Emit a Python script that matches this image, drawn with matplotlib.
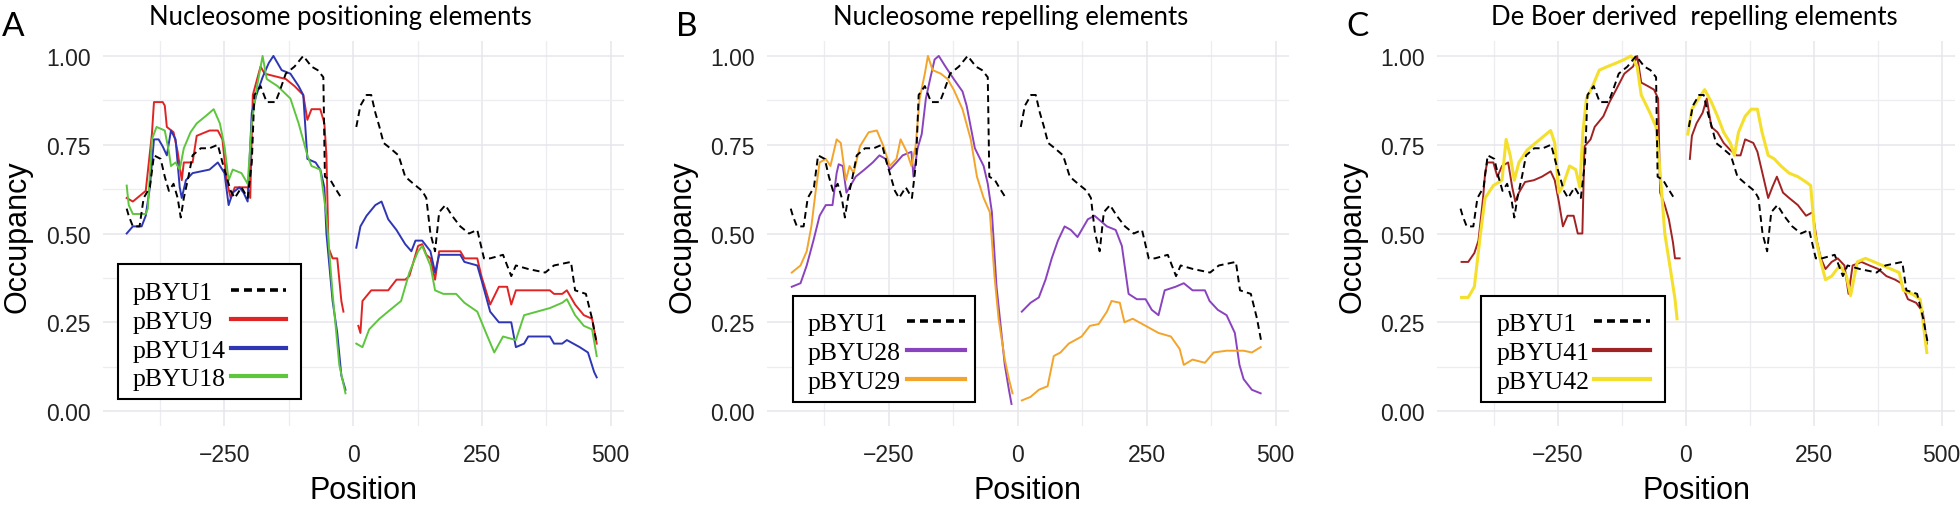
import numpy as np
import matplotlib
matplotlib.use("Agg")
import matplotlib.pyplot as plt
from matplotlib.patches import Rectangle

nan = np.nan

# ---- data; nan splits the two sides of the gap ----
pbyu1_x = [-440, -436, -428, -415, -407, -395, -387, -374, -366, -358, -349, -341, -335, -329, -320,
           -312, -296, -279, -263, -254, -246, -238, -230, -217, -205, -197, -192, -180, -168, -151,
           -143, -131, -114, -97, -81, -69, -58, -55, -44, -36, -23, nan,
           6, 14, 26, 35, 43, 51, 59, 72, 88, 101, 117, 134, 142, 150, 159, 167, 179, 192, 208, 225,
           241, 254, 266, 291, 307, 316, 340, 373, 390, 423, 431, 452, 464, 473]
pbyu1_y = [0.57, 0.55, 0.52, 0.52, 0.60, 0.63, 0.72, 0.71, 0.66, 0.62, 0.64, 0.60, 0.545, 0.60, 0.66,
           0.72, 0.74, 0.74, 0.75, 0.70, 0.66, 0.62, 0.60, 0.63, 0.60, 0.70, 0.89, 0.915, 0.87, 0.87,
           0.90, 0.95, 0.97, 1.00, 0.97, 0.96, 0.94, 0.66, 0.65, 0.63, 0.60, nan,
           0.80, 0.86, 0.89, 0.89, 0.84, 0.80, 0.755, 0.74, 0.72, 0.66, 0.64, 0.62, 0.60, 0.50, 0.45,
           0.56, 0.58, 0.55, 0.52, 0.50, 0.51, 0.43, 0.43, 0.44, 0.38, 0.41, 0.40, 0.39, 0.41, 0.42,
           0.34, 0.33, 0.26, 0.19]

pbyu9_x = [-440, -428, -403, -391, -387, -370, -366, -362, -349, -341, -333, -329, -312, -304, -279,
           -263, -254, -246, -238, -234, -230, -205, -200, -195, -180, -172, -131, -114, -97, -89,
           -81, -64, -56, -52, -48, -40, -31, -23, -19, nan,
           10, 14, 18, 35, 68, 84, 101, 109, 126, 134, 142, 150, 159, 167, 200, 208, 216, 241, 249,
           266, 283, 299, 307, 316, 382, 390, 406, 415, 431, 448, 464, 473]
pbyu9_y = [0.60, 0.59, 0.62, 0.78, 0.87, 0.87, 0.86, 0.80, 0.785, 0.73, 0.65, 0.70, 0.70, 0.775, 0.79,
           0.79, 0.765, 0.65, 0.60, 0.615, 0.63, 0.63, 0.60, 0.89, 0.97, 0.95, 0.935, 0.915, 0.89, 0.82,
           0.85, 0.85, 0.81, 0.72, 0.46, 0.43, 0.43, 0.31, 0.28, nan,
           0.24, 0.22, 0.31, 0.34, 0.34, 0.37, 0.37, 0.38, 0.465, 0.47, 0.44, 0.43, 0.37, 0.45, 0.45,
           0.45, 0.43, 0.43, 0.38, 0.30, 0.35, 0.35, 0.30, 0.34, 0.34, 0.33, 0.33, 0.34, 0.30, 0.27,
           0.26, 0.19]

pbyu14_x = [-440, -428, -411, -403, -395, -387, -378, -370, -362, -354, -345, -337, -333, -325, -312,
            -279, -263, -250, -242, -234, -221, -213, -205, -197, -188, -176, -164, -155, -139, -122,
            -106, -97, -89, -73, -64, -56, -52, -40, -31, -23, -15, nan,
            6, 14, 26, 43, 55, 68, 84, 101, 113, 121, 134, 150, 159, 167, 183, 208, 216, 241, 249,
            266, 283, 307, 316, 332, 340, 382, 390, 406, 415, 440, 456, 468, 473]
pbyu14_y = [0.50, 0.52, 0.52, 0.55, 0.63, 0.765, 0.765, 0.745, 0.72, 0.79, 0.765, 0.63, 0.60, 0.65, 0.67,
            0.68, 0.70, 0.67, 0.58, 0.615, 0.63, 0.615, 0.59, 0.84, 0.89, 0.94, 0.98, 1.00, 0.96, 0.95,
            0.915, 0.89, 0.71, 0.70, 0.68, 0.63, 0.50, 0.31, 0.22, 0.10, 0.06, nan,
            0.46, 0.52, 0.55, 0.58, 0.59, 0.54, 0.51, 0.47, 0.45, 0.48, 0.48, 0.45, 0.39, 0.44, 0.44,
            0.44, 0.42, 0.41, 0.37, 0.28, 0.25, 0.25, 0.18, 0.19, 0.21, 0.21, 0.19, 0.19, 0.20, 0.18,
            0.165, 0.11, 0.095]

pbyu18_x = [-440, -436, -428, -403, -399, -391, -382, -366, -358, -354, -345, -337, -329, -316, -304,
            -287, -271, -259, -250, -242, -234, -217, -205, -197, -188, -176, -168, -147, -122, -106,
            -89, -81, -64, -52, -40, -27, -15, nan,
            6, 18, 31, 51, 76, 93, 109, 126, 134, 150, 159, 175, 200, 216, 241, 258, 274, 291, 316,
            332, 357, 382, 406, 415, 431, 448, 464, 473]
pbyu18_y = [0.635, 0.58, 0.555, 0.555, 0.57, 0.765, 0.80, 0.79, 0.73, 0.69, 0.70, 0.68, 0.74, 0.785, 0.81,
            0.83, 0.85, 0.81, 0.745, 0.65, 0.68, 0.67, 0.64, 0.81, 0.905, 1.00, 0.935, 0.915, 0.88, 0.81,
            0.72, 0.69, 0.68, 0.55, 0.33, 0.13, 0.05, nan,
            0.19, 0.18, 0.23, 0.26, 0.29, 0.31, 0.39, 0.45, 0.465, 0.41, 0.34, 0.33, 0.33, 0.305, 0.28,
            0.22, 0.165, 0.21, 0.20, 0.27, 0.28, 0.29, 0.305, 0.315, 0.27, 0.24, 0.23, 0.155]

pbyu28_x = [-438, -421, -409, -396, -384, -372, -359, -351, -347, -339, -332, -326, -314, -297, -281,
            -268, -256, -248, -235, -223, -206, -202, -194, -186, -178, -169, -161, -153, -140, -124,
            -107, -99, -91, -83, -66, -58, -50, -41, -33, -25, -17, -12, nan,
            8, 25, 41, 54, 66, 78, 91, 103, 116, 124, 136, 149, 161, 173, 190, 202, 215, 231, 248,
            260, 273, 285, 306, 322, 339, 363, 372, 388, 405, 421, 430, 438, 454, 471]
pbyu28_y = [0.35, 0.36, 0.41, 0.48, 0.55, 0.58, 0.58, 0.67, 0.695, 0.69, 0.615, 0.63, 0.66, 0.68, 0.70,
            0.72, 0.71, 0.68, 0.70, 0.72, 0.73, 0.66, 0.74, 0.78, 0.88, 0.94, 0.99, 1.00, 0.97, 0.935,
            0.90, 0.86, 0.80, 0.74, 0.69, 0.64, 0.56, 0.35, 0.24, 0.13, 0.06, 0.02, nan,
            0.28, 0.305, 0.32, 0.37, 0.43, 0.48, 0.52, 0.51, 0.49, 0.51, 0.54, 0.55, 0.535, 0.52, 0.51,
            0.465, 0.33, 0.315, 0.315, 0.285, 0.27, 0.34, 0.35, 0.36, 0.34, 0.34, 0.31, 0.285, 0.27,
            0.22, 0.13, 0.09, 0.06, 0.05]

pbyu29_x = [-438, -421, -409, -400, -392, -384, -372, -363, -351, -343, -333, -326, -318, -306, -289,
            -273, -260, -248, -235, -227, -215, -206, -198, -190, -180, -174, -165, -149, -136, -124,
            -107, -91, -79, -66, -54, -45, -37, -25, -17, -10, nan,
            8, 25, 41, 58, 70, 83, 99, 124, 140, 157, 173, 182, 198, 207, 223, 248, 273, 297, 314,
            322, 339, 363, 380, 405, 438, 454, 471]
pbyu29_y = [0.39, 0.41, 0.45, 0.52, 0.615, 0.70, 0.71, 0.69, 0.765, 0.755, 0.65, 0.69, 0.67, 0.745, 0.785,
            0.79, 0.745, 0.69, 0.71, 0.765, 0.73, 0.69, 0.745, 0.88, 0.95, 1.00, 0.96, 0.95, 0.935, 0.905,
            0.85, 0.765, 0.66, 0.60, 0.56, 0.38, 0.26, 0.145, 0.09, 0.05, nan,
            0.03, 0.04, 0.06, 0.07, 0.155, 0.165, 0.19, 0.21, 0.24, 0.245, 0.28, 0.31, 0.305, 0.25, 0.26,
            0.24, 0.22, 0.21, 0.175, 0.13, 0.145, 0.136, 0.165, 0.17, 0.17, 0.165, 0.18]

pbyu41_x = [-438, -425, -413, -405, -396, -392, -388, -376, -368, -359, -347, -339, -333, -326, -314,
            -297, -281, -264, -256, -248, -240, -231, -219, -211, -202, -198, -186, -178, -161, -149,
            -136, -120, -103, -95, -87, -74, -62, -54, -50, -41, -33, -25, -21, -12, nan,
            8, 12, 21, 33, 41, 50, 62, 74, 87, 99, 107, 116, 132, 140, 153, 161, 169, 178, 190, 202,
            219, 235, 248, 256, 264, 273, 285, 297, 310, 318, 326, 343, 359, 376, 392, 409, 421, 434,
            450, 463, 471]
pbyu41_y = [0.42, 0.42, 0.445, 0.48, 0.60, 0.67, 0.70, 0.70, 0.66, 0.69, 0.70, 0.63, 0.59, 0.615, 0.645,
            0.65, 0.66, 0.675, 0.65, 0.59, 0.52, 0.55, 0.55, 0.50, 0.50, 0.745, 0.765, 0.80, 0.83, 0.87,
            0.905, 0.95, 0.97, 1.00, 0.925, 0.915, 0.905, 0.88, 0.615, 0.58, 0.54, 0.475, 0.43, 0.43, nan,
            0.71, 0.775, 0.81, 0.84, 0.88, 0.80, 0.785, 0.755, 0.735, 0.72, 0.72, 0.765, 0.755, 0.73,
            0.65, 0.60, 0.63, 0.66, 0.615, 0.60, 0.58, 0.55, 0.56, 0.48, 0.43, 0.40, 0.42, 0.43, 0.41,
            0.33, 0.41, 0.42, 0.41, 0.40, 0.38, 0.37, 0.36, 0.315, 0.305, 0.28, 0.19]

pbyu42_x = [-438, -425, -413, -401, -392, -376, -359, -351, -343, -335, -326, -310, -285, -264, -256,
            -248, -240, -227, -215, -207, -201, -194, -182, -169, -153, -136, -120, -107, -95, -87,
            -70, -58, -50, -41, -29, -21, -17, nan,
            4, 12, 25, 37, 50, 62, 74, 87, 95, 103, 116, 128, 140, 149, 161, 173, 186, 202, 219, 235,
            244, 252, 264, 273, 285, 301, 314, 322, 335, 351, 368, 384, 401, 417, 425, 442, 458, 471]
pbyu42_y = [0.32, 0.32, 0.35, 0.50, 0.60, 0.635, 0.65, 0.765, 0.72, 0.65, 0.70, 0.735, 0.765, 0.79, 0.755,
            0.615, 0.635, 0.69, 0.68, 0.63, 0.785, 0.88, 0.915, 0.96, 0.97, 0.98, 0.99, 1.00, 0.97, 0.89,
            0.84, 0.80, 0.67, 0.50, 0.39, 0.315, 0.26, nan,
            0.78, 0.85, 0.88, 0.905, 0.87, 0.83, 0.785, 0.755, 0.72, 0.785, 0.83, 0.85, 0.85, 0.785,
            0.72, 0.71, 0.69, 0.67, 0.66, 0.645, 0.635, 0.50, 0.42, 0.37, 0.38, 0.41, 0.38, 0.325, 0.42,
            0.43, 0.42, 0.41, 0.40, 0.39, 0.34, 0.33, 0.315, 0.165]

titles = ["Nucleosome positioning elements", "Nucleosome repelling elements",
          "De Boer derived  repelling elements"]
letters = ["A", "B", "C"]
x_ticks = [-250, 0, 250, 500]
y_ticks = [0.0, 0.25, 0.5, 0.75, 1.0]

panels = [
    [("pBYU1", pbyu1_x, pbyu1_y, "black"),
     ("pBYU9", pbyu9_x, pbyu9_y, "#E02424"),
     ("pBYU14", pbyu14_x, pbyu14_y, "#2E36B4"),
     ("pBYU18", pbyu18_x, pbyu18_y, "#5DC63C")],
    [("pBYU1", pbyu1_x, pbyu1_y, "black"),
     ("pBYU28", pbyu28_x, pbyu28_y, "#8A43BE"),
     ("pBYU29", pbyu29_x, pbyu29_y, "#F3A42A")],
    [("pBYU1", pbyu1_x, pbyu1_y, "black"),
     ("pBYU41", pbyu41_x, pbyu41_y, "#A12222"),
     ("pBYU42", pbyu42_x, pbyu42_y, "#F4E02C")],
]

W, H = 1960, 506
fig = plt.figure(figsize=(W / 100, H / 100), dpi=100)
plt.rcParams['font.family'] = ['Liberation Sans', 'DejaVu Sans']

# layout in pixels
ax_px = [(103, 624), (767, 1289), (1437, 1955)]
ax_top, ax_bot = 42, 427
title_cx = [340, 1011, 1694]
letter_x = [2, 676, 1346]
# legend box: left, top, right, bottom, text x, handle x0, x1, first row y
legend_box = [(118, 265, 301, 400, 133, 231, 286, 291),
              (793, 297, 975, 403, 808, 907, 965, 322),
              (1481, 297, 1665, 403, 1497, 1594, 1650, 322)]
row_step = 28.8

# overlay for the hand-drawn legends (pixel coordinates)
over = fig.add_axes([0, 0, 1, 1], zorder=10)
over.set_xlim(0, W)
over.set_ylim(H, 0)
over.axis("off")
over.patch.set_alpha(0)

for i, series in enumerate(panels):
    l, r = ax_px[i]
    ax = fig.add_axes([l / W, 1 - ax_bot / H, (r - l) / W, (ax_bot - ax_top) / H])
    for name, xs, ys, col in series:
        if name == "pBYU1":
            ax.plot(xs, ys, color=col, lw=1.4, dashes=(3.5, 2.2), zorder=5)
        elif name == "pBYU42":
            ax.plot(xs, ys, color=col, lw=2.2, zorder=3)
        else:
            ax.plot(xs, ys, color=col, lw=1.4, zorder=3)
    ax.set_xlim(-486, 526)
    ax.set_ylim(-0.042, 1.042)
    ax.set_xticks(x_ticks)
    ax.set_xticks([-375, -125, 125, 375], minor=True)
    ax.set_yticks(y_ticks)
    ax.set_yticks([0.125, 0.375, 0.625, 0.875], minor=True)
    ax.set_yticklabels(["%.2f" % v for v in y_ticks])
    ax.tick_params(which="both", length=0)
    ax.tick_params(axis="x", pad=12, labelsize=16.5, labelcolor="#222222")
    ax.tick_params(axis="y", pad=9, labelsize=16.5, labelcolor="#222222")
    ax.grid(which="major", color="#E6E6EC", lw=1.1)
    ax.grid(which="minor", color="#EDEDF1", lw=0.9)
    ax.set_axisbelow(True)
    for s in ax.spines.values():
        s.set_visible(False)

    # axis titles
    fig.text((l - 85) / W, 1 - 237 / H, "Occupancy", rotation=90, ha="center", va="center",
             fontsize=22)
    fig.text((l + r) / 2 / W, 1 - 491 / H, "Position", ha="center", va="center", fontsize=22)

    # panel title and letter
    fig.text(title_cx[i] / W, 1 - 17 / H, titles[i], ha="center", va="center", fontsize=18.5,
             family=["Lato", "DejaVu Sans"])
    fig.text(letter_x[i] / W, 1 - 27 / H, letters[i], ha="left", va="center", fontsize=24,
             family=["Lato", "DejaVu Sans"])

    # legend: text left, line to its right, black frame
    bl, bt, br, bb, tx, hx0, hx1, ry = legend_box[i]
    over.add_patch(Rectangle((bl, bt), br - bl, bb - bt, facecolor="white",
                             edgecolor="black", lw=1.5))
    for k, (name, xs, ys, col) in enumerate(series):
        yy = ry + k * row_step
        over.text(tx, yy + 9, name, ha="left", va="baseline", fontsize=18.5,
                  family=["Liberation Serif", "DejaVu Serif"])
        if name == "pBYU1":
            over.plot([hx0, hx1], [yy, yy], color=col, lw=2.6, dashes=(2.2, 1.4))
        else:
            over.plot([hx0, hx1], [yy, yy], color=col, lw=3.0)

fig.savefig("out.png", dpi=100)
